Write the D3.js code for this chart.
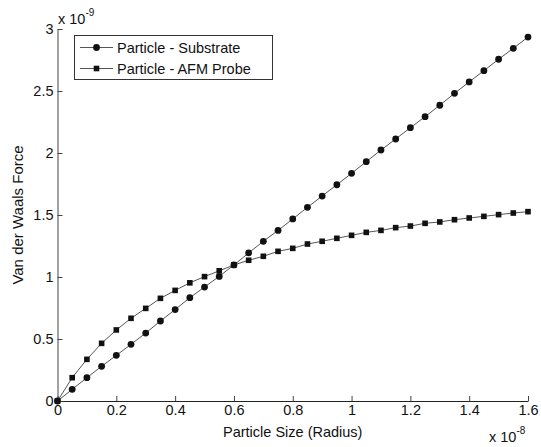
<!DOCTYPE html>
<html>
<head>
<meta charset="utf-8">
<script src="https://cdn.jsdelivr.net/npm/d3@7"></script>
<style>
  body { margin: 0; background: #fff; }
  text { font-family: "Liberation Sans", Arial, sans-serif; fill: #111; }
</style>
</head>
<body>
<div id="chart"></div>
<script>
// Data (x in units of 1e-8, force in units of 1e-9)
var radius = [0, 0.05, 0.1, 0.15, 0.2, 0.25, 0.3, 0.35, 0.4, 0.45, 0.5, 0.55, 0.6, 0.65, 0.7, 0.75, 0.8,
              0.85, 0.9, 0.95, 1.0, 1.05, 1.1, 1.15, 1.2, 1.25, 1.3, 1.35, 1.4, 1.45, 1.5, 1.55, 1.6];
var substrate = [0, 0.094, 0.188, 0.28, 0.368, 0.457, 0.548, 0.645, 0.737, 0.833, 0.919, 1.005, 1.097,
                 1.194, 1.288, 1.376, 1.468, 1.562, 1.653, 1.744, 1.836, 1.93, 2.024, 2.113, 2.204,
                 2.293, 2.385, 2.481, 2.573, 2.664, 2.756, 2.844, 2.935];
var afmProbe = [0, 0.188, 0.336, 0.465, 0.573, 0.667, 0.747, 0.828, 0.892, 0.953, 1.003, 1.05, 1.097,
                1.135, 1.167, 1.207, 1.231, 1.266, 1.288, 1.312, 1.336, 1.36, 1.376, 1.398, 1.411,
                1.433, 1.444, 1.462, 1.476, 1.489, 1.503, 1.516, 1.527];
var xTicks = [0, 0.2, 0.4, 0.6, 0.8, 1, 1.2, 1.4, 1.6];
var yTicks = [0, 0.5, 1, 1.5, 2, 2.5, 3];
var seriesNames = ['Particle - Substrate', 'Particle - AFM Probe'];

var chart_width = 541;
var chart_height = 447;
var margin = { left: 57.5, right: 13, top: 29, bottom: 46 };
var font_size = 14.5;

var svg = d3.select('#chart')
    .append('svg')
    .attr('width', chart_width)
    .attr('height', chart_height);

var x = d3.scaleLinear()
    .domain([0, 1.6])
    .range([margin.left, chart_width - margin.right]);

var y = d3.scaleLinear()
    .domain([0, 3])
    .range([chart_height - margin.bottom, margin.top]);

// Axes (ticks point inward, like MATLAB)
var xAxis = svg.append('g')
    .attr('transform', 'translate(0,' + y(0) + ')')
    .call(d3.axisBottom(x).tickValues(xTicks).tickSizeInner(-5).tickSizeOuter(0)
        .tickFormat(function(d){ return d3.format('')(d); }));
xAxis.select('.domain').attr('stroke', '#222');
xAxis.selectAll('.tick line').attr('stroke', '#444');
xAxis.selectAll('.tick text')
    .attr('y', 4)
    .attr('font-size', font_size)
    .attr('font-family', '"Liberation Sans", Arial, sans-serif')
    .attr('fill', '#111');

var yAxis = svg.append('g')
    .attr('transform', 'translate(' + x(0) + ',0)')
    .call(d3.axisLeft(y).tickValues(yTicks).tickSizeInner(-5).tickSizeOuter(0)
        .tickFormat(function(d){ return d3.format('')(d); }));
yAxis.select('.domain').attr('stroke', '#444');
yAxis.selectAll('.tick line').attr('stroke', '#444');
yAxis.selectAll('.tick text')
    .attr('x', -4)
    .attr('font-size', font_size)
    .attr('font-family', '"Liberation Sans", Arial, sans-serif')
    .attr('fill', '#111');

// Lines
var line_sub = d3.line()
    .x(function(d, i){ return x(radius[i]); })
    .y(function(d){ return y(d); });

svg.append('path')
    .attr('d', line_sub(substrate))
    .attr('fill', 'none')
    .attr('stroke', '#555')
    .attr('stroke-width', 1);

svg.append('path')
    .attr('d', line_sub(afmProbe))
    .attr('fill', 'none')
    .attr('stroke', '#555')
    .attr('stroke-width', 1);

// Markers
svg.selectAll('circle.sub')
    .data(substrate)
    .enter()
    .append('circle')
    .attr('class', 'sub')
    .attr('cx', function(d, i){ return x(radius[i]); })
    .attr('cy', function(d){ return y(d); })
    .attr('r', 3.4)
    .attr('fill', '#111');

var sq = 5.6;
svg.selectAll('rect.afm')
    .data(afmProbe)
    .enter()
    .append('rect')
    .attr('class', 'afm')
    .attr('x', function(d, i){ return x(radius[i]) - sq / 2; })
    .attr('y', function(d){ return y(d) - sq / 2; })
    .attr('width', sq)
    .attr('height', sq)
    .attr('fill', '#111');

// Exponent labels
var yExp = svg.append('text')
    .attr('x', 58)
    .attr('y', 24)
    .attr('font-size', font_size);
yExp.append('tspan').text('x 10');
yExp.append('tspan').attr('dy', -8).attr('font-size', 10).text('-9');

var xExp = svg.append('text')
    .attr('x', 489)
    .attr('y', 442)
    .attr('font-size', font_size);
xExp.append('tspan').text('x 10');
xExp.append('tspan').attr('dy', -8).attr('font-size', 10).text('-8');

// Axis titles
svg.append('text')
    .attr('x', (x(0) + x(1.6)) / 2)
    .attr('y', 437)
    .attr('text-anchor', 'middle')
    .attr('font-size', font_size)
    .text('Particle Size (Radius)');

svg.append('text')
    .attr('transform', 'translate(23,' + y(1.5) + ') rotate(-90)')
    .attr('text-anchor', 'middle')
    .attr('font-size', 15)
    .text('Van der Waals Force');

// Legend
var legend = svg.append('g');
legend.append('rect')
    .attr('x', 74.5)
    .attr('y', 35.5)
    .attr('width', 198)
    .attr('height', 44)
    .attr('fill', '#fff')
    .attr('stroke', '#333')
    .attr('stroke-width', 1);

seriesNames.forEach(function(name, i){
    var ly = 47.5 + i * 21;
    legend.append('line')
        .attr('x1', 80).attr('x2', 113)
        .attr('y1', ly).attr('y2', ly)
        .attr('stroke', '#555');
    if (i === 0) {
        legend.append('circle').attr('cx', 96.5).attr('cy', ly).attr('r', 3.4).attr('fill', '#111');
    } else {
        legend.append('rect').attr('x', 96.5 - sq / 2).attr('y', ly - sq / 2)
            .attr('width', sq).attr('height', sq).attr('fill', '#111');
    }
    legend.append('text')
        .attr('x', 117)
        .attr('y', ly + 5)
        .attr('font-size', font_size)
        .text(name);
});
</script>
</body>
</html>
